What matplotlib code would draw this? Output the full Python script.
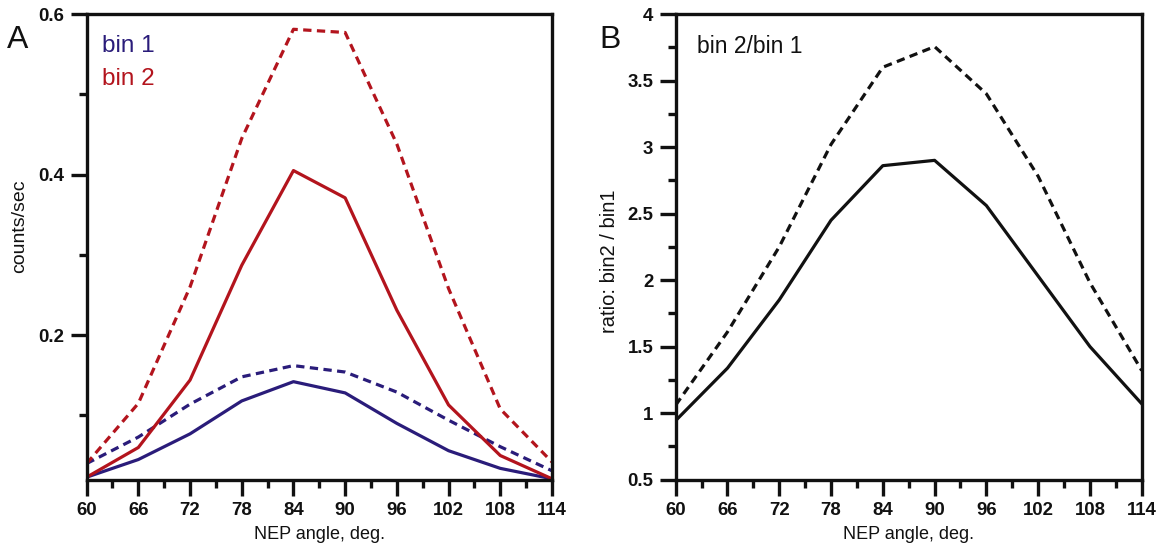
import matplotlib
matplotlib.use("Agg")
import matplotlib.pyplot as plt
from matplotlib.ticker import FixedLocator

plt.rcParams['font.family'] = ['Liberation Sans', 'DejaVu Sans']

angles = [60, 66, 72, 78, 84, 90, 96, 102, 108, 114]

bin1_solid = [0.023, 0.045, 0.077, 0.118, 0.142, 0.128, 0.090, 0.056, 0.034, 0.021]
bin1_dashed = [0.040, 0.073, 0.114, 0.148, 0.162, 0.154, 0.129, 0.094, 0.061, 0.031]
bin2_solid = [0.023, 0.060, 0.144, 0.287, 0.405, 0.371, 0.231, 0.113, 0.050, 0.021]
bin2_dashed = [0.040, 0.115, 0.260, 0.445, 0.581, 0.577, 0.438, 0.258, 0.108, 0.042]

ratio_solid = [0.944, 1.338, 1.851, 2.45, 2.86, 2.90, 2.56, 2.03, 1.50, 1.07]
ratio_dashed = [1.06, 1.61, 2.25, 3.02, 3.60, 3.755, 3.40, 2.78, 1.98, 1.32]

x_ticks = [60, 66, 72, 78, 84, 90, 96, 102, 108, 114]
left_yticks = [0.2, 0.4, 0.6]
right_yticks = [0.5, 1, 1.5, 2, 2.5, 3, 3.5, 4]

BLUE = '#2a1c7a'
RED = '#b3141d'
BLACK = '#111111'

fig = plt.figure(figsize=(11.63, 5.5), dpi=100)
axA = fig.add_axes([0.0745, 0.128, 0.4001, 0.8465])
axB = fig.add_axes([0.581, 0.128, 0.4007, 0.8465])

LW = 2.3
DASH = (2.6, 1.7)


def style_axis(ax):
    for sp in ax.spines.values():
        sp.set_linewidth(2.4)
        sp.set_color(BLACK)
        sp.set_zorder(5)
    ax.set_xlim(60, 114)
    ax.xaxis.set_major_locator(FixedLocator(x_ticks))
    ax.xaxis.set_minor_locator(FixedLocator([t + 3 for t in x_ticks[:-1]]))
    ax.set_xticklabels([str(t) for t in x_ticks])
    ax.tick_params(which='major', direction='out', length=11.5, width=2.4,
                   color=BLACK, labelsize=13.4, pad=4.5)
    ax.tick_params(which='minor', direction='out', length=5.8, width=2.4,
                   color=BLACK)
    ax.tick_params(axis='both', which='both', top=False, right=False)
    for lab in ax.get_xticklabels() + ax.get_yticklabels():
        lab.set_fontweight('bold')
        lab.set_color(BLACK)
    ax.set_xlabel('NEP angle, deg.', fontsize=13, labelpad=5, color=BLACK)


# Panel A
axA.plot(angles, bin1_dashed, color=BLUE, lw=LW, dashes=DASH)
axA.plot(angles, bin2_dashed, color=RED, lw=LW, dashes=DASH)
axA.plot(angles, bin1_solid, color=BLUE, lw=LW)
axA.plot(angles, bin2_solid, color=RED, lw=LW)
axA.set_ylim(0.02, 0.6)
axA.yaxis.set_major_locator(FixedLocator(left_yticks))
axA.yaxis.set_minor_locator(FixedLocator([0.1, 0.3, 0.5]))
axA.set_yticklabels([f'{v:.1f}' for v in left_yticks])
style_axis(axA)
axA.set_ylabel('counts/sec', fontsize=14, color=BLACK)
axA.yaxis.set_label_coords(-0.126, 0.544)
axA.text(0.033, 0.955, 'bin 1', transform=axA.transAxes, color=BLUE,
         fontsize=17.5, va='top', ha='left')
axA.text(0.033, 0.885, 'bin 2', transform=axA.transAxes, color=RED,
         fontsize=17.5, va='top', ha='left')
fig.text(0.006, 0.955, 'A', fontsize=23, va='top', ha='left', color=BLACK)

# Panel B
axB.plot(angles, ratio_dashed, color=BLACK, lw=LW, dashes=DASH)
axB.plot(angles, ratio_solid, color=BLACK, lw=LW)
axB.set_ylim(0.5, 4)
axB.yaxis.set_major_locator(FixedLocator(right_yticks))
axB.yaxis.set_minor_locator(FixedLocator([0.75, 1.25, 1.75, 2.25, 2.75, 3.25, 3.75]))
axB.set_yticklabels([f'{v:g}' for v in right_yticks])
style_axis(axB)
axB.set_ylabel('ratio: bin2 / bin1', fontsize=14.5, color=BLACK)
axB.yaxis.set_label_coords(-0.122, 0.469)
axB.text(0.045, 0.955, 'bin 2/bin 1', transform=axB.transAxes, color=BLACK,
         fontsize=16.5, va='top', ha='left')
fig.text(0.515, 0.955, 'B', fontsize=23, va='top', ha='left', color=BLACK)

fig.savefig('out.png', dpi=100)
